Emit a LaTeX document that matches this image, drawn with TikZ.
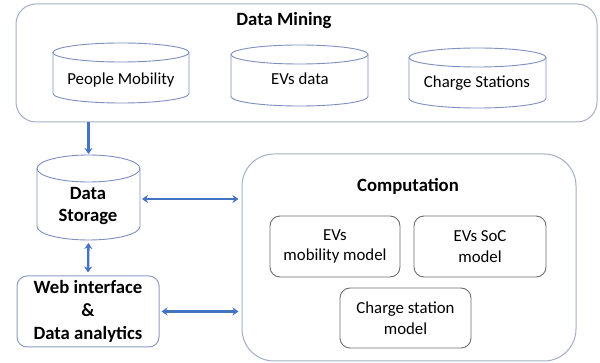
\documentclass[tikz,border=0pt]{standalone}
\usepackage{fontspec}
\setmainfont{Carlito}
\usetikzlibrary{arrows.meta}
\definecolor{arrowblue}{HTML}{4472C4}
\definecolor{framec}{HTML}{A3AEC6}
\definecolor{cylc}{HTML}{7F8FC0}
\definecolor{modelc}{HTML}{6E6E6E}
\definecolor{webc}{HTML}{8C9CC4}
\newcommand\mycyl[6]{%
  \pgfmathsetmacro\cylcx{(#2+#4)/2}%
  \pgfmathsetmacro\cylcy{(#3+#5)/2}%
  \pgfmathsetmacro\cylrx{(#4-#2)/2}%
  \pgfmathsetmacro\cylw{#4-#2}%
  \pgfmathsetmacro\cylh{#5-#3}%
  \draw[cylline] (\cylcx,#3+#6) ellipse [x radius=\cylrx pt, y radius=#6pt];
  \draw[cylline] (#2,#3+#6) -- (#2,#5-#6) arc[start angle=180,end angle=360,x radius=\cylrx pt,y radius=#6pt] -- (#4,#3+#6);
  \node[inner sep=0pt, outer sep=0pt, minimum width=\cylw pt, minimum height=\cylh pt] (#1) at (\cylcx,\cylcy) {};
}
\begin{document}
\begin{tikzpicture}[x=1pt,y=-1pt,
  lbl/.style={font=\fontsize{16.8}{20.5}\selectfont, align=center, inner sep=0pt},
  blbl/.style={font=\fontsize{18.7}{22.5}\selectfont\bfseries, align=center, inner sep=0pt},
  cylline/.style={draw=cylc, line width=0.9pt},
  bigbox/.style={draw=framec, line width=1pt, inner sep=0pt},
  modelbox/.style={draw=modelc, line width=0.9pt, rounded corners=10pt, inner sep=0pt, font=\fontsize{16.8}{20.5}\selectfont, align=center},
  webbox/.style={draw=webc, line width=1pt, rounded corners=10pt, inner sep=0pt, font=\fontsize{18.7}{23}\selectfont\bfseries, align=center},
  onearrow/.style={draw=arrowblue, line width=2.3pt, -{Stealth[length=6pt,width=8pt]}},
  twoarrow/.style={draw=arrowblue, line width=2.3pt, {Stealth[length=6pt,width=8pt]}-{Stealth[length=6pt,width=8pt]}}
]
\useasboundingbox (0,0) rectangle (600,363);
\fill[white] (0,0) rectangle (600,363);

% Data Mining
\node[bigbox, rounded corners=20pt, minimum width=581pt, minimum height=118pt] (dm) at (306.5,63) {};
\node[blbl, anchor=base] (dmt) at (284,26) {Data Mining};
\mycyl{pm}{53}{43}{189}{103}{9.5}
\node[lbl, anchor=base] (pmt) at (121,85) {People Mobility};
\mycyl{evs}{231}{45}{368}{106}{9.5}
\node[lbl, anchor=base] (evst) at (300,85) {EVs data};
\mycyl{cs}{409}{48}{546}{108}{9.5}
\node[lbl, anchor=base] (cst) at (477,88) {Charge Stations};

% Data Storage
\mycyl{ds}{37}{155}{140}{240}{13.5}
\node[blbl, anchor=base] (dst1) at (88,200) {Data};
\node[blbl, anchor=base] (dst2) at (88,222) {Storage};

% Web interface
\node[webbox, minimum width=142pt, minimum height=71pt] (web) at (88,311.5) {Web interface\\\&\\Data analytics};

% Computation
\node[bigbox, rounded corners=32pt, minimum width=334pt, minimum height=207pt] (comp) at (409,257.5) {};
\node[blbl, anchor=base] (compt) at (408,192) {Computation};
\node[modelbox, minimum width=130pt, minimum height=61pt] (mob) at (335,246.5) {EVs\\mobility model};
\node[modelbox, minimum width=132pt, minimum height=61pt] (soc) at (480,246.5) {EVs SoC\\model};
\node[modelbox, minimum width=131pt, minimum height=60pt] (csm) at (405.5,318) {Charge station\\model};

% connectors
\coordinate (dsr) at ([yshift=-1.5pt]ds.east);
\draw[onearrow, shorten >=1pt] (dm.south -| ds.north) -- (ds.north);
\draw[twoarrow, shorten <=2pt, shorten >=3pt] (dsr) -- (comp.west |- dsr);
\draw[twoarrow, shorten <=3pt, shorten >=3pt] (ds.south) -- (web.north);
\draw[twoarrow, shorten <=2pt, shorten >=3pt] (web.east) -- (comp.west |- web.east);
\end{tikzpicture}
\end{document}
